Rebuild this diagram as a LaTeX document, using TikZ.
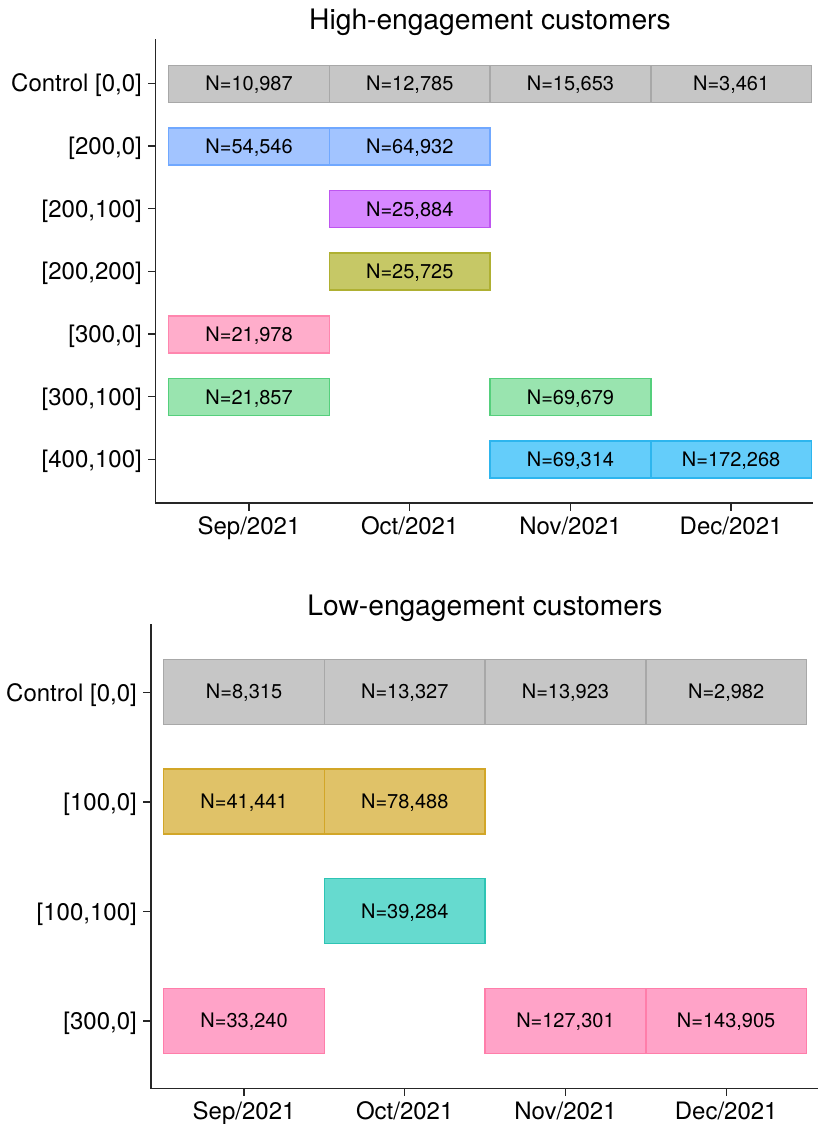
\documentclass[tikz,border=0pt]{standalone}
\usepackage{fontspec}
\setmainfont{TeX Gyre Heros}
\definecolor{gfill}{HTML}{C6C6C6}\definecolor{gdraw}{HTML}{A8A8A8}
\definecolor{bfill}{HTML}{A2C4FF}\definecolor{bdraw}{HTML}{70A8FF}
\definecolor{pfill}{HTML}{D788FF}\definecolor{pdraw}{HTML}{BE55F0}
\definecolor{ofill}{HTML}{C6C866}\definecolor{odraw}{HTML}{AFB032}
\definecolor{kfill}{HTML}{FFADCB}\definecolor{kdraw}{HTML}{FF86AE}
\definecolor{nfill}{HTML}{99E4AF}\definecolor{ndraw}{HTML}{55CF7C}
\definecolor{cfill}{HTML}{64CDFA}\definecolor{cdraw}{HTML}{2DB5EE}
\definecolor{yfill}{HTML}{E0C268}\definecolor{ydraw}{HTML}{D2A628}
\definecolor{tfill}{HTML}{66DACF}\definecolor{tdraw}{HTML}{2EC4B4}
\definecolor{qfill}{HTML}{FFA3C8}\definecolor{qdraw}{HTML}{FF7EAA}
\begin{document}
\begin{tikzpicture}[x=1pt,y=-1pt,
  bar/.style={draw, line width=1.4pt, minimum width=160.7pt, inner sep=0pt,
    text height=14pt, text depth=0pt, font=\fontsize{20}{22}\selectfont},
  hbar/.style={bar, minimum height=37pt},
  lbar/.style={bar, minimum height=65pt},
  gbar/.style={fill=gfill, draw=gdraw},
  ylab/.style={anchor=east, inner sep=0pt, text height=17.2pt, text depth=0pt,
    font=\fontsize{24}{26}\selectfont},
  xlab/.style={anchor=base, inner sep=0pt, font=\fontsize{24}{26}\selectfont},
  ttl/.style={anchor=base, inner sep=0pt, font=\fontsize{28.2}{30}\selectfont},
  axis/.style={line width=1.3pt, black!85, line cap=rect}]
\useasboundingbox (0,0) rectangle (817,1124);

% ---------- Top panel ----------
\node[ttl] (t1) at (490,30) {High-engagement customers};
\draw[axis] (155.7,40) -- (155.7,503) -- (812,503);
\foreach \y in {83.3,146,208.7,271.3,334,396.7,459.3}
  \draw[axis, line cap=butt] (148,\y) -- (155.7,\y);
\foreach \x in {249,409.7,570.4,731.1}
  \draw[axis, line cap=butt] (\x,503) -- (\x,511);

\node[ylab] (hy0) at (142,83.3) {Control [0,0]};
\node[ylab] (hy1) at (142,146) {[200,0]};
\node[ylab] (hy2) at (142,208.7) {[200,100]};
\node[ylab] (hy3) at (142,271.3) {[200,200]};
\node[ylab] (hy4) at (142,334) {[300,0]};
\node[ylab] (hy5) at (142,396.7) {[300,100]};
\node[ylab] (hy6) at (142,459.3) {[400,100]};

\node[xlab] (hx1) at (249,534) {Sep/2021};
\node[xlab] (hx2) at (409.7,534) {Oct/2021};
\node[xlab] (hx3) at (570.4,534) {Nov/2021};
\node[xlab] (hx4) at (731.1,534) {Dec/2021};

\node[hbar, gbar] (h01) at (249.05,83.8) {N=10,987};
\node[hbar, gbar] (h02) at (409.75,83.8) {N=12,785};
\node[hbar, gbar] (h03) at (570.45,83.8) {N=15,653};
\node[hbar, gbar] (h04) at (731.15,83.8) {N=3,461};
\node[hbar, fill=bfill, draw=bdraw] (h11) at (249.05,146.3) {N=54,546};
\node[hbar, fill=bfill, draw=bdraw] (h12) at (409.75,146.3) {N=64,932};
\node[hbar, fill=pfill, draw=pdraw] (h22) at (409.75,209) {N=25,884};
\node[hbar, fill=ofill, draw=odraw] (h32) at (409.75,271.6) {N=25,725};
\node[hbar, fill=kfill, draw=kdraw] (h41) at (249.05,334.3) {N=21,978};
\node[hbar, fill=nfill, draw=ndraw] (h51) at (249.05,397) {N=21,857};
\node[hbar, fill=nfill, draw=ndraw] (h53) at (570.45,397) {N=69,679};
\node[hbar, fill=cfill, draw=cdraw] (h63) at (570.45,459.6) {N=69,314};
\node[hbar, fill=cfill, draw=cdraw] (h64) at (731.15,459.6) {N=172,268};

% ---------- Bottom panel ----------
\node[ttl] (t2) at (485,615) {Low-engagement customers};
\draw[axis] (151,625) -- (151,1088.3) -- (817,1088.3);
\foreach \y in {692.5,802,911.5,1021}
  \draw[axis, line cap=butt] (143,\y) -- (151,\y);
\foreach \x in {244.1,404.7,565.5,726.2}
  \draw[axis, line cap=butt] (\x,1088.3) -- (\x,1096);

\node[ylab] (ly0) at (137,692.5) {Control [0,0]};
\node[ylab] (ly1) at (137,802) {[100,0]};
\node[ylab] (ly2) at (137,911.5) {[100,100]};
\node[ylab] (ly3) at (137,1021) {[300,0]};

\node[xlab] (lx1) at (244.1,1119) {Sep/2021};
\node[xlab] (lx2) at (404.7,1119) {Oct/2021};
\node[xlab] (lx3) at (565.5,1119) {Nov/2021};
\node[xlab] (lx4) at (726.2,1119) {Dec/2021};

\node[lbar, gbar] (l01) at (244.05,691.8) {N=8,315};
\node[lbar, gbar] (l02) at (404.75,691.8) {N=13,327};
\node[lbar, gbar] (l03) at (565.45,691.8) {N=13,923};
\node[lbar, gbar] (l04) at (726.15,691.8) {N=2,982};
\node[lbar, fill=yfill, draw=ydraw] (l11) at (244.05,801.5) {N=41,441};
\node[lbar, fill=yfill, draw=ydraw] (l12) at (404.75,801.5) {N=78,488};
\node[lbar, fill=tfill, draw=tdraw] (l22) at (404.75,911) {N=39,284};
\node[lbar, fill=qfill, draw=qdraw] (l31) at (244.05,1020.8) {N=33,240};
\node[lbar, fill=qfill, draw=qdraw] (l33) at (565.45,1020.8) {N=127,301};
\node[lbar, fill=qfill, draw=qdraw] (l34) at (726.15,1020.8) {N=143,905};
\end{tikzpicture}
\end{document}
